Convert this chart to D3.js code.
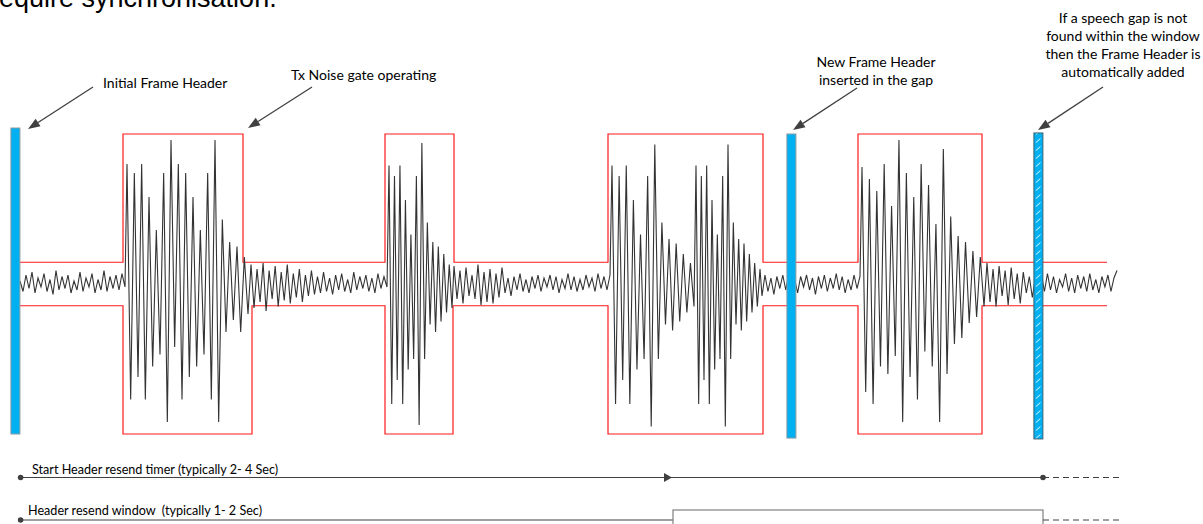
<!DOCTYPE html>
<html><head><meta charset="utf-8">
<script src="https://cdn.jsdelivr.net/npm/d3@7"></script>
<style>
html,body{margin:0;padding:0;background:#fff;overflow:hidden}
svg{display:block}
</style></head><body>
<svg id="c" width="1203" height="524"></svg>
<script>
// ---------------- DATA (time in ms, amplitude normalised to gate box = 1) ----------------
const headerTimes   = [77, 3957, 5192];
const headerKinds   = ["initial", "inserted", "forced"];
const headerTop     = [1.04, 1.0, 1.007];
const headerBottom  = [-1.0, -1.027, -1.033];

const gateStart     = [615, 1925, 3040, 4290];
const gateEndTop    = [1215, 2270, 3815, 4910];
const gateEndBottom = [1260, 2265, 3815, 4910];
const gateSpan      = [100, 5535];
const gateThreshold = 0.145;
const gateOpenLevel = 1.0;

const segStart = [100, 635, 1255, 1945, 2270, 3060, 3480, 3810, 4310, 4935];
const segEnd   = [625, 1240, 1935, 2260, 3050, 3470, 3800, 4300, 4920, 5585];

const noiseA = [0.02,-0.05,0.06,-0.03,0.08,-0.06,0.04,-0.02,0.07,-0.05,0.03,-0.07,0.09,-0.04,0.05,-0.03,0.06,-0.06,0.02,-0.04,0.08,-0.05,0.04,-0.02,0.07,-0.06,0.03,-0.04,0.09,-0.05,0.05,-0.03,0.06,-0.04,0.07,-0.02];
const burst1 = [0.80,-0.77,0.74,-0.62,0.80,-0.77,0.58,-0.55,0.36,-0.47,0.74,-0.92,0.96,-0.42,0.80,-0.77,0.74,-0.62,0.58,-0.55,0.36,-0.47,0.74,-0.77,0.96,-0.92,0.43,-0.32,0.28,-0.24,0.25,-0.32,0.18,-0.20];
const noiseB = [0.13,-0.16,0.10,-0.12,0.14,-0.18,0.09,-0.10,0.12,-0.15,0.08,-0.11,0.13,-0.13,0.07,-0.09,0.10,-0.12,0.06,-0.08,0.09,-0.07,0.05,-0.06,0.08,-0.05,0.04,-0.07,0.06,-0.04,0.07,-0.05,0.03,-0.06,0.08,-0.04,0.05,-0.03,0.06,-0.05,0.04,-0.06,0.07,-0.03,0.05,-0.02];
const burst2 = [0.79,-0.80,0.72,-0.64,0.79,-0.80,0.56,-0.57,0.33,-0.50,0.72,-0.94,0.94,-0.50,0.41,-0.27,0.28,-0.32,0.25,-0.25,0.20,-0.19,0.13,-0.16];
const noiseC = [0.12,-0.10,0.09,-0.13,0.11,-0.08,0.06,-0.10,0.13,-0.14,0.08,-0.12,0.10,-0.13,0.07,-0.09,0.11,-0.06,0.04,-0.08,0.05,-0.04,0.07,-0.05,0.03,-0.06,0.05,-0.03,0.06,-0.05,0.04,-0.02,0.06,-0.04,0.05,-0.06,0.03,-0.03,0.07,-0.04,0.05,-0.05,0.03,-0.04,0.06,-0.02,0.04,-0.05,0.07,-0.03,0.05,-0.04,0.06];
const burst3a = [0.79,-0.80,0.72,-0.64,0.79,-0.80,0.56,-0.57,0.33,-0.50,0.72,-0.95,0.93,-0.50,0.41,-0.27,0.30,-0.31,0.27,-0.25,0.20,-0.19,0.14,-0.15];
const burst3b = [0.79,-0.80,0.72,-0.64,0.79,-0.80,0.56,-0.57,0.33,-0.50,0.72,-0.95,0.93,-0.50,0.41,-0.27,0.30,-0.31,0.27,-0.25,0.20,-0.19,0.14,-0.15,0.10];
const noiseD = [-0.08,0.06,-0.05,0.04,-0.07,0.05,-0.03,0.06,-0.04,0.07,-0.05,0.03,-0.06,0.05,-0.02,0.06,-0.04,0.04,-0.07,0.05,-0.03,0.06,-0.05,0.04,-0.03,0.07,-0.04,0.05,-0.06,0.03,-0.04,0.06,-0.03,0.05];
const burst4 = [0.78,-0.72,0.70,-0.80,0.62,-0.55,0.80,-0.60,0.52,-0.48,0.96,-0.92,0.74,-0.62,0.58,-0.77,0.80,-0.45,0.66,-0.55,0.40,-0.92,0.90,-0.60,0.45,-0.40,0.32,-0.36,0.28,-0.26,0.22,-0.22,0.18,-0.15];
const noiseE = [0.14,-0.12,0.10,-0.15,0.12,-0.08,0.09,-0.14,0.11,-0.10,0.07,-0.13,0.08,-0.06,0.05,-0.09,0.04,-0.03,0.06,-0.05,0.07,-0.04,0.05,-0.06,0.03,-0.02,0.07,-0.05,0.04,-0.06,0.06,-0.03,0.05,-0.05,0.07,-0.04,0.03,-0.06,0.05,-0.02,0.06,-0.05,0.04,0.09];
const segValues = [noiseA, burst1, noiseB, burst2, noiseC, burst3a, burst3b, noiseD, burst4, noiseE];

const timerStart = 103, timerMark = 3360, timerEnd = 5215, timelineEnd = 5600;
const windowStart = 3365, windowEnd = 5215;

const titleText = "require synchronisation.";
const annotationLabels = [
  ["Initial Frame Header"],
  ["Tx Noise gate operating"],
  ["New Frame Header", "inserted in the gap"],
  ["If a speech gap is not", "found within the window", "then the Frame Header is", "automatically added"]
];
const timelineLabels = ["Start Header resend timer (typically 2- 4 Sec)", "Header resend window  (typically 1- 2 Sec)"];

// ---------------- DRAWING ----------------
const svg = d3.select("#c");
const x = d3.scaleLinear().domain([0, 5600]).range([0, 1120]);
const y = d3.scaleLinear().domain([-1, 1]).range([434, 134]);
const FONT = "Lato, 'Open Sans', sans-serif";
const DARK = "#404040";

const defs = svg.append("defs");
const barW = 9;
const hatch = defs.append("pattern").attr("id", "hatch")
  .attr("patternUnits", "userSpaceOnUse").attr("width", 9).attr("height", 8)
  .attr("x", x(headerTimes[2]) - barW / 2).attr("y", 0);
hatch.append("rect").attr("width", 9).attr("height", 8).attr("fill", "#00b0f0");
hatch.append("path").attr("d", "M2,6.5 L6.5,2.5").attr("stroke", "#e8f8ff").attr("stroke-width", 1);

// title fragment (cut off at the top)
svg.append("text").attr("x", -10).attr("y", 7)
  .attr("font-family", "'Liberation Sans', Arial, sans-serif").attr("font-size", 27)
  .attr("fill", "#000").text(titleText);

// gate outline
function gatePath(sign, ends) {
  const pts = [[gateSpan[0], sign * gateThreshold]];
  gateStart.forEach((s, i) => {
    pts.push([s, sign * gateThreshold], [s, sign * gateOpenLevel],
             [ends[i], sign * gateOpenLevel], [ends[i], sign * gateThreshold]);
  });
  pts.push([gateSpan[1], sign * gateThreshold]);
  return d3.line().x(d => x(d[0])).y(d => y(d[1]))(pts);
}
svg.append("path").attr("d", gatePath(1, gateEndTop)).attr("fill", "none")
  .attr("stroke", "#ff1a1a").attr("stroke-width", 1.2);
svg.append("path").attr("d", gatePath(-1, gateEndBottom)).attr("fill", "none")
  .attr("stroke", "#ff1a1a").attr("stroke-width", 1.2);

// waveform
const samples = [];
segValues.forEach((vals, k) => {
  const n = vals.length;
  vals.forEach((v, i) => samples.push([segStart[k] + i * (segEnd[k] - segStart[k]) / (n - 1), v]));
});
svg.append("path").datum(samples)
  .attr("d", d3.line().x(d => x(d[0])).y(d => y(d[1])))
  .attr("fill", "none").attr("stroke", "#333").attr("stroke-width", 1.1)
  .attr("stroke-linejoin", "miter");

// frame headers
svg.selectAll("rect.hdr").data(headerTimes).join("rect").attr("class", "hdr")
  .attr("x", d => x(d) - barW / 2)
  .attr("y", (d, i) => y(headerTop[i]))
  .attr("width", barW)
  .attr("height", (d, i) => y(headerBottom[i]) - y(headerTop[i]))
  .attr("fill", (d, i) => headerKinds[i] === "forced" ? "url(#hatch)" : "#00b0f0")
  .attr("stroke", (d, i) => headerKinds[i] === "forced" ? "#3d6272" : "#8c9aa0")
  .attr("stroke-width", 1);

// annotation arrows
function arrow(x1, y1, x2, y2) {
  const ang = Math.atan2(y2 - y1, x2 - x1), L = 12, W = 4.5;
  const bx = x2 - L * Math.cos(ang), by = y2 - L * Math.sin(ang);
  svg.append("line").attr("x1", x1).attr("y1", y1).attr("x2", bx).attr("y2", by)
    .attr("stroke", DARK).attr("stroke-width", 1.3);
  const p = [[x2, y2],
             [bx + W * Math.sin(ang), by - W * Math.cos(ang)],
             [bx - W * Math.sin(ang), by + W * Math.cos(ang)]];
  svg.append("path").attr("d", "M" + p.map(q => q.join(",")).join("L") + "Z").attr("fill", DARK);
}
const annLayout = [
  {x: 103, y: 88, anchor: "start", ax1: 93, ay1: 87, ax2: 28, ay2: 129},
  {x: 291, y: 80, anchor: "start", ax1: 312, ay1: 87, ax2: 248, ay2: 128},
  {x: 876, y: 67, anchor: "middle", ax1: 857, ay1: 88, ax2: 793, ay2: 130},
  {x: 1123, y: 23, anchor: "middle", ax1: 1103, ay1: 87, ax2: 1038, ay2: 130}
];
annotationLabels.forEach((lines, i) => {
  const L = annLayout[i];
  const t = svg.append("text").attr("font-family", FONT).attr("font-size", 14)
    .attr("fill", "#000").attr("text-anchor", L.anchor);
  lines.forEach((s, j) => t.append("tspan").attr("x", L.x).attr("y", L.y + j * 18).text(s));
  arrow(L.ax1, L.ay1, L.ax2, L.ay2);
});

// timelines
const row1 = 477.5, row2 = 520;
svg.append("line").attr("x1", x(timerStart)).attr("x2", x(timerEnd)).attr("y1", row1).attr("y2", row1)
  .attr("stroke", DARK).attr("stroke-width", 1);
svg.append("line").attr("x1", x(timerEnd)).attr("x2", x(timelineEnd)).attr("y1", row1).attr("y2", row1)
  .attr("stroke", DARK).attr("stroke-width", 1).attr("stroke-dasharray", "6,4");
svg.append("path").attr("d", `M${x(timerMark)},${row1}L${x(timerMark) - 8},${row1 - 4.5}L${x(timerMark) - 8},${row1 + 4.5}Z`).attr("fill", DARK);
[timerStart, timerEnd].forEach(t => svg.append("circle").attr("cx", x(t)).attr("cy", row1).attr("r", 2.8).attr("fill", DARK));

svg.append("line").attr("x1", x(timerStart)).attr("x2", x(windowStart)).attr("y1", row2).attr("y2", row2)
  .attr("stroke", DARK).attr("stroke-width", 1);
svg.append("rect").attr("x", x(windowStart)).attr("y", 510).attr("width", x(windowEnd) - x(windowStart)).attr("height", 30)
  .attr("fill", "none").attr("stroke", "#808080").attr("stroke-width", 1.2);
svg.append("line").attr("x1", x(windowEnd)).attr("x2", x(timelineEnd)).attr("y1", row2).attr("y2", row2)
  .attr("stroke", DARK).attr("stroke-width", 1).attr("stroke-dasharray", "6,4");
svg.append("circle").attr("cx", x(timerStart)).attr("cy", row2).attr("r", 2.8).attr("fill", DARK);

svg.append("text").attr("x", 32).attr("y", 474).attr("font-family", FONT).attr("font-size", 12.6)
  .attr("fill", "#000").text(timelineLabels[0]);
svg.append("text").attr("x", 28).attr("y", 515).attr("font-family", FONT).attr("font-size", 12.6)
  .attr("fill", "#000").attr("xml:space", "preserve").style("white-space", "pre").text(timelineLabels[1]);
</script>
</body></html>
